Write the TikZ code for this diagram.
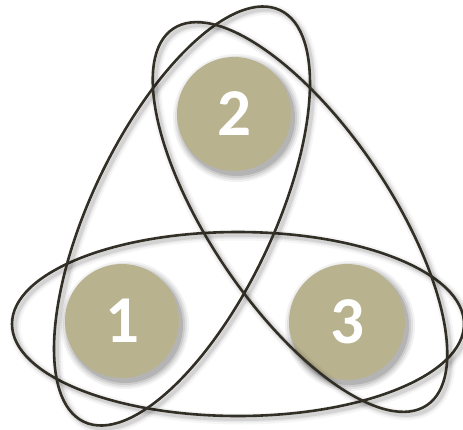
\documentclass[tikz,border=0pt]{standalone}
\usepackage{fontspec}
\newfontfamily\numfont{Carlito}
\definecolor{discfill}{RGB}{184,178,143}
\definecolor{ringcol}{RGB}{50,47,38}
\tikzset{
  disc/.style={circle, fill=discfill, minimum size=114pt, inner sep=0pt, text=white,
    font=\numfont\bfseries\fontsize{67}{67}\selectfont},
  ringline/.style={draw=ringcol, line width=2.6pt},
}
\newcommand\myring[5]{%
  \foreach \w/\o in {11/0.035,7/0.06,4/0.09}{%
    \draw[line width=\w pt, draw=black, opacity=\o, rotate around={#3:(#1+3,#2+3)}]
      (#1+3,#2+3) ellipse [x radius=#4pt, y radius=#5pt];}
  \draw[ringline, rotate around={#3:(#1,#2)}] (#1,#2) ellipse [x radius=#4pt, y radius=#5pt];
}
\newcommand\discshadow[3]{%
  \foreach \d/\o in {7/0.05,5/0.07,3/0.09,1/0.12}{%
    \fill[black, opacity=\o] (#1+3,#2+4) circle [radius=#3pt+\d pt];}
}
\begin{document}
\begin{tikzpicture}[x=1pt,y=-1pt]
\useasboundingbox (0,0) rectangle (463,429);
\discshadow{122}{321}{57}
\discshadow{234}{114}{57}
\discshadow{347}{322}{58}
\node[disc] (n1) at (122,321) {1};
\node[disc] (n2) at (234,114) {2};
\node[disc, minimum size=116pt] (n3) at (347,322) {3};
\myring{238}{324}{0}{226}{92}
\myring{182}{216}{64.5}{228}{91}
\myring{300}{217}{-56}{227}{90}
\end{tikzpicture}
\end{document}
